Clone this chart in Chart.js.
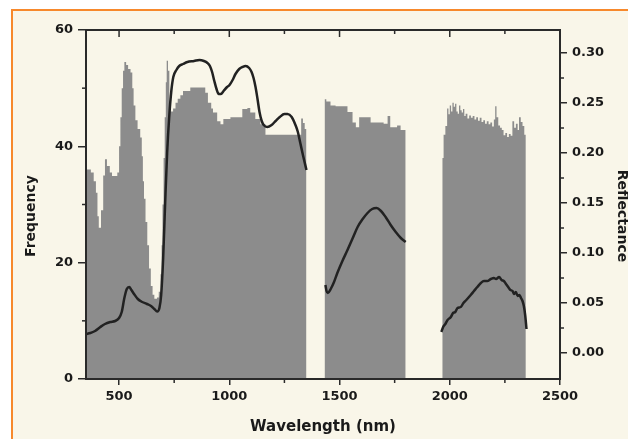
<!DOCTYPE html>
<html>
<head>
<meta charset="utf-8">
<script src="https://cdn.jsdelivr.net/npm/chart.js@4"></script>
<style>
  html, body { margin: 0; padding: 0; background: #ffffff; }
  #frame {
    position: absolute; left: 11px; top: 9px; width: 617px; height: 430px;
    box-sizing: border-box; background: #f9f6e9;
    border-top: 2px solid #f7892c; border-left: 2px solid #f7892c;
  }
  #c { position: absolute; left: 0; top: 0; }
</style>
</head>
<body>
<div id="frame"></div>
<canvas id="c" width="628" height="439"></canvas>
<script>
// Histogram of band frequency (step bins: wavelength where each bin starts, last entry closes the band)
const histBandA_nm   = [350, 372, 385, 395, 402, 408, 418, 428, 436, 445, 458, 468, 492, 500, 506, 512, 518, 524, 532, 541, 552, 560, 566, 574, 584, 596, 603, 608, 613, 620, 628, 636, 644, 652, 660, 672, 680, 688, 693, 697, 702, 707, 712, 716, 722, 728, 734, 745, 756, 766, 778, 790, 823, 891, 903, 918, 926, 945, 960, 973, 1005, 1059, 1082, 1095, 1118, 1141, 1164, 1326, 1334, 1342, 1350];
const histBandA_freq = [36, 35.5, 34, 32, 28, 26, 29, 35, 37.8, 36.6, 35.5, 34.9, 35.5, 40, 45, 50, 53, 54.5, 54, 53.3, 52.7, 50, 47, 44.5, 43, 41.5, 38.3, 34, 31, 27, 23, 19, 16, 14.5, 13.8, 14, 15, 18, 23, 30, 38, 45, 51, 54.7, 53, 47.5, 46, 46.5, 47.5, 48.2, 48.8, 49.5, 50.1, 49.2, 47.5, 46.5, 45.8, 44.3, 43.8, 44.7, 45, 46.4, 46.6, 45.8, 44.7, 43.8, 42, 44.8, 44, 43, 43];

const histBandB_nm   = [1432, 1440, 1459, 1482, 1536, 1559, 1574, 1589, 1641, 1700, 1718, 1730, 1761, 1777, 1800];
const histBandB_freq = [48.1, 47.7, 47, 46.9, 45.9, 44.1, 43.3, 45, 44.1, 43.9, 45.2, 43.3, 43.6, 42.8, 42.8];

const histBandC_nm   = [1966, 1972, 1980, 1988, 1994, 2000, 2006, 2012, 2018, 2024, 2030, 2036, 2042, 2048, 2054, 2060, 2066, 2072, 2080, 2088, 2096, 2104, 2112, 2120, 2128, 2136, 2144, 2152, 2160, 2168, 2176, 2184, 2192, 2200, 2206, 2212, 2220, 2228, 2236, 2244, 2252, 2260, 2268, 2276, 2284, 2292, 2300, 2308, 2314, 2322, 2330, 2338, 2345];
const histBandC_freq = [38, 42, 43.5, 46.5, 45.5, 47, 46, 47.5, 46.8, 47.3, 46, 45.6, 47, 46.2, 45.8, 46.4, 45.2, 45.6, 44.8, 45.3, 44.9, 45.2, 44.6, 45, 44.4, 44.9, 44.2, 44.5, 43.9, 44.3, 43.8, 44.1, 43.4, 44.6, 46.9, 45, 43.6, 43.2, 42.8, 41.9, 42.3, 41.6, 42.1, 41.8, 44.3, 43.2, 43.9, 42.8, 45, 44.2, 43.5, 42, 42];

// Mean reflectance spectrum, one array pair per band
const reflBandA_nm  = [350, 370, 391, 415, 436, 460, 482, 500, 512, 524, 535, 546, 556, 568, 585, 605, 627, 645, 660, 673, 683, 691, 700, 709, 718, 728, 737, 746, 760, 773, 790, 810, 840, 864, 885, 901, 912, 922, 932, 942, 952, 962, 974, 990, 1001, 1015, 1028, 1045, 1060, 1074, 1090, 1101, 1110, 1119, 1128, 1137, 1147, 1156, 1172, 1192, 1210, 1229, 1250, 1264, 1283, 1300, 1311, 1322, 1335, 1350];
const reflBandA_val = [0.019, 0.020, 0.022, 0.026, 0.029, 0.031, 0.032, 0.035, 0.041, 0.055, 0.064, 0.066, 0.063, 0.059, 0.054, 0.051, 0.049, 0.047, 0.044, 0.0415, 0.045, 0.058, 0.095, 0.150, 0.200, 0.238, 0.262, 0.276, 0.283, 0.287, 0.289, 0.291, 0.292, 0.293, 0.292, 0.290, 0.287, 0.281, 0.272, 0.264, 0.259, 0.259, 0.262, 0.266, 0.268, 0.273, 0.279, 0.284, 0.286, 0.287, 0.285, 0.281, 0.275, 0.266, 0.254, 0.241, 0.232, 0.228, 0.226, 0.228, 0.232, 0.236, 0.239, 0.239, 0.236, 0.228, 0.221, 0.210, 0.197, 0.183];

const reflBandB_nm  = [1436, 1441, 1447, 1460, 1475, 1490, 1513, 1536, 1560, 1582, 1605, 1627, 1648, 1668, 1688, 1709, 1732, 1755, 1778, 1800];
const reflBandB_val = [0.068, 0.062, 0.060, 0.064, 0.071, 0.080, 0.092, 0.103, 0.115, 0.126, 0.134, 0.140, 0.144, 0.145, 0.142, 0.136, 0.128, 0.121, 0.115, 0.111];

const reflBandC_nm  = [1962, 1970, 1980, 1990, 2005, 2015, 2025, 2035, 2050, 2062, 2075, 2095, 2110, 2125, 2141, 2155, 2170, 2186, 2200, 2210, 2224, 2235, 2245, 2255, 2265, 2275, 2285, 2291, 2300, 2308, 2316, 2323, 2330, 2336, 2342, 2348];
const reflBandC_val = [0.021, 0.026, 0.029, 0.033, 0.036, 0.040, 0.041, 0.045, 0.046, 0.050, 0.053, 0.058, 0.062, 0.066, 0.070, 0.072, 0.072, 0.074, 0.075, 0.074, 0.076, 0.073, 0.072, 0.069, 0.066, 0.063, 0.062, 0.059, 0.061, 0.057, 0.058, 0.055, 0.052, 0.047, 0.038, 0.024];

// Axis tick values
const xMajorTicks  = [500, 1000, 1500, 2000, 2500];
const xMinorTicks  = [750, 1250, 1750, 2250];
const yMajorTicks  = [0, 20, 40, 60];
const yMinorTicks  = [10, 30, 50];
const y2MajorTicks = [0, 0.05, 0.10, 0.15, 0.20, 0.25, 0.30];
const y2MinorTicks = [0.025, 0.075, 0.125, 0.175, 0.225, 0.275];

const axisColor = '#2a2a2a';
const textColor = '#1a1a1a';
const tickFont  = { family: 'DejaVu Sans', weight: 'bold', size: 13 };

// Join bands into one point list, with a null point between bands to break the line/fill
function joinBands(bands) {
  const pts = [];
  bands.forEach(([xs, ys], i) => {
    if (i > 0) pts.push({ x: (pts[pts.length - 1].x + xs[0]) / 2, y: null });
    xs.forEach((x, j) => pts.push({ x: x, y: ys[j] }));
  });
  return pts;
}

const histPoints = joinBands([[histBandA_nm, histBandA_freq], [histBandB_nm, histBandB_freq], [histBandC_nm, histBandC_freq]]);
const reflPoints = joinBands([[reflBandA_nm, reflBandA_val], [reflBandB_nm, reflBandB_val], [reflBandC_nm, reflBandC_val]]);

// Frame, minor ticks, top-axis ticks and rotated y titles
const decorations = {
  id: 'decorations',
  afterDatasetsDraw(chart) {
    const { ctx, chartArea: a, scales } = chart;
    const seg = (x1, y1, x2, y2) => { ctx.beginPath(); ctx.moveTo(x1, y1); ctx.lineTo(x2, y2); ctx.stroke(); };
    ctx.save();
    ctx.strokeStyle = axisColor;
    ctx.lineWidth = 2;
    ctx.strokeRect(a.left, a.top, a.right - a.left, a.bottom - a.top);
    ctx.lineWidth = 1.5;
    xMajorTicks.forEach(v => { const px = scales.x.getPixelForValue(v); seg(px, a.top, px, a.top + 7); });
    xMinorTicks.forEach(v => {
      const px = scales.x.getPixelForValue(v);
      seg(px, a.top, px, a.top + 4);
      seg(px, a.bottom, px, a.bottom + 4);
    });
    yMinorTicks.forEach(v => { const py = scales.y.getPixelForValue(v); seg(a.left - 4, py, a.left, py); });
    y2MinorTicks.forEach(v => { const py = scales.y2.getPixelForValue(v); seg(a.right, py, a.right + 4, py); });
    ctx.restore();
  },
  afterDraw(chart) {
    const { ctx } = chart;
    const vTitle = (text, x, y, angle) => {
      ctx.save();
      ctx.fillStyle = textColor;
      ctx.font = 'bold 14px "DejaVu Sans"';
      ctx.textAlign = 'center';
      ctx.textBaseline = 'middle';
      ctx.translate(x, y);
      ctx.rotate(angle);
      ctx.fillText(text, 0, 0);
      ctx.restore();
    };
    vTitle('Frequency', 31, 216, -Math.PI / 2);
    vTitle('Reflectance', 622, 216, Math.PI / 2);
  }
};

new Chart(document.getElementById('c'), {
  type: 'line',
  data: {
    datasets: [
      {
        label: 'Reflectance',
        data: reflPoints,
        yAxisID: 'y2',
        borderColor: '#222222',
        borderWidth: 2.5,
        pointRadius: 0,
        fill: false,
        spanGaps: false,
        cubicInterpolationMode: 'monotone'
      },
      {
        // each bin value holds until the next bin start
        label: 'Frequency',
        data: histPoints,
        yAxisID: 'y',
        stepped: 'before',
        borderWidth: 0,
        borderColor: 'rgba(0,0,0,0)',
        backgroundColor: '#8c8c8c',
        pointRadius: 0,
        fill: 'origin',
        spanGaps: false
      }
    ]
  },
  options: {
    responsive: false,
    animation: false,
    layout: { padding: { top: 30, left: 0, right: 0, bottom: 0 } },
    plugins: { legend: { display: false }, tooltip: { enabled: false } },
    scales: {
      x: {
        type: 'linear', position: 'bottom', min: 350, max: 2500,
        afterBuildTicks: s => { s.ticks = xMajorTicks.map(v => ({ value: v })); },
        afterFit: s => { s.height = 60; },
        grid: { display: true, drawOnChartArea: false, drawTicks: true, tickLength: 6, color: axisColor, lineWidth: 1.5 },
        border: { display: false },
        ticks: { font: tickFont, color: textColor, padding: 4, maxRotation: 0, autoSkip: false, callback: v => String(v) },
        title: { display: true, text: 'Wavelength (nm)', color: textColor,
                 font: { family: 'DejaVu Sans', weight: 'bold', size: 15 }, padding: { top: 0, bottom: 3 } }
      },
      y: {
        type: 'linear', position: 'left', min: 0, max: 60,
        afterBuildTicks: s => { s.ticks = yMajorTicks.map(v => ({ value: v })); },
        afterFit: s => { s.width = 86; },
        grid: { display: true, drawOnChartArea: false, drawTicks: true, tickLength: 8, color: axisColor, lineWidth: 1.5 },
        border: { display: false },
        ticks: { font: tickFont, color: textColor, padding: 5, callback: v => String(v) }
      },
      y2: {
        type: 'linear', position: 'right', min: -0.026, max: 0.323,
        afterBuildTicks: s => { s.ticks = y2MajorTicks.map(v => ({ value: v })); },
        afterFit: s => { s.width = 68; },
        grid: { display: true, drawOnChartArea: false, drawTicks: true, tickLength: 7, color: axisColor, lineWidth: 1.5 },
        border: { display: false },
        ticks: { font: tickFont, color: textColor, padding: 5, callback: v => Number(v).toFixed(2) }
      }
    }
  },
  plugins: [decorations]
});
</script>
</body>
</html>
